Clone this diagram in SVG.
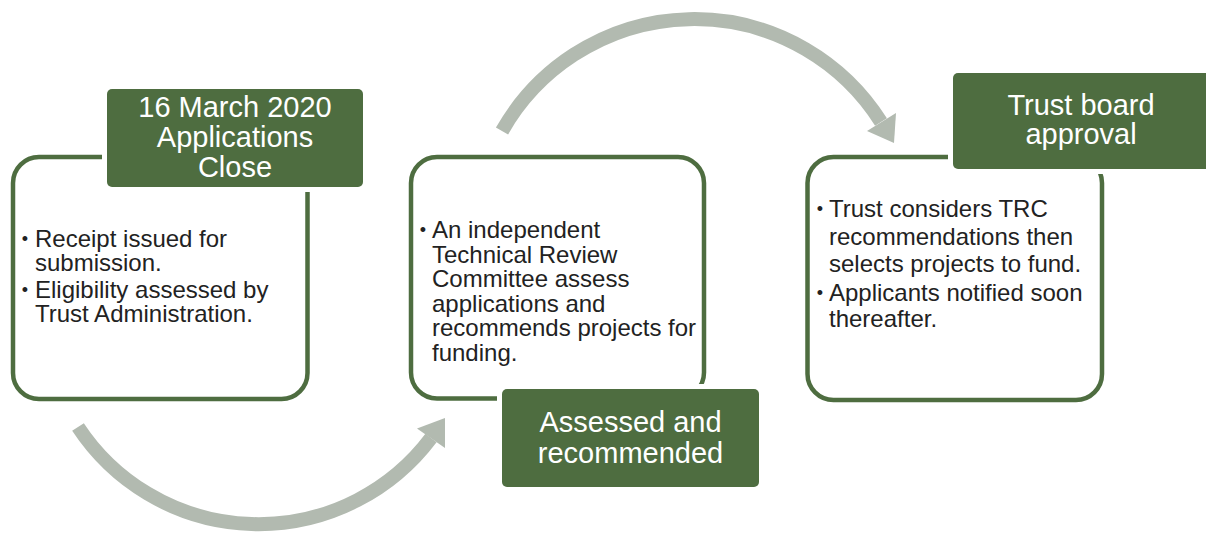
<svg xmlns="http://www.w3.org/2000/svg" width="1206" height="534" viewBox="0 0 1206 534">
<style>
.box{fill:#ffffff;stroke:#4e6d40;stroke-width:4.5}
.gap{fill:#ffffff}
.hdr{fill:#4e6d40}
.ht{font-family:"Liberation Sans",Arial,sans-serif;font-size:29px;fill:#ffffff;text-anchor:middle}
.bt{font-family:"Liberation Sans",Arial,sans-serif;font-size:24px;fill:#222222}
.bul{font-family:"Liberation Sans",Arial,sans-serif;font-size:18px;fill:#222222;text-anchor:middle}
.arc{fill:none;stroke:#b2bab0;stroke-width:14;stroke-linecap:butt}
.head{fill:#b2bab0}
</style>
<rect width="1206" height="534" fill="#ffffff"/>
<g id="connectors">
<path class="arc" d="M 78 427 A 216 216 0 0 0 431 438"/>
<polygon class="head" points="445,418 417,428.5 445,448"/>
<path class="arc" d="M 502 131 A 221 221 0 0 1 881 122"/>
<polygon class="head" points="894,143 867,131 896,113"/>
</g>
<g id="node1">
<rect class="box" x="13" y="157" width="294.5" height="242" rx="26"/>
<rect class="gap" x="102" y="84" width="266" height="108" rx="8"/>
<rect class="hdr" x="107" y="89" width="256" height="98" rx="5"/>
<text class="ht" x="235" y="117">16 March 2020</text>
<text class="ht" x="235" y="147">Applications</text>
<text class="ht" x="235" y="177">Close</text>
<text class="bul" x="25" y="245">•</text>
<text class="bt" x="35" y="246.5">Receipt issued for</text>
<text class="bt" x="35" y="271.1">submission.</text>
<text class="bul" x="25" y="296">•</text>
<text class="bt" x="35" y="297.5">Eligibility assessed by</text>
<text class="bt" x="35" y="322.1">Trust Administration.</text>
</g>
<g id="node2">
<rect class="box" x="411" y="157" width="293" height="241.5" rx="26"/>
<rect class="gap" x="497" y="384" width="267" height="108" rx="8"/>
<rect class="hdr" x="502" y="389" width="257" height="98" rx="5"/>
<text class="ht" x="630.5" y="432">Assessed and</text>
<text class="ht" x="630.5" y="463">recommended</text>
<text class="bul" x="423" y="236">•</text>
<text class="bt" x="432" y="238">An independent</text>
<text class="bt" x="432" y="262.6">Technical Review</text>
<text class="bt" x="432" y="287.2">Committee assess</text>
<text class="bt" x="432" y="311.8">applications and</text>
<text class="bt" x="432" y="336.4">recommends projects for</text>
<text class="bt" x="432" y="361">funding.</text>
</g>
<g id="node3">
<rect class="box" x="807.5" y="157" width="294.5" height="243" rx="26"/>
<rect class="gap" x="948" y="68" width="267" height="106" rx="8"/>
<rect class="hdr" x="953" y="73" width="257" height="96" rx="5"/>
<text class="ht" x="1081" y="115">Trust board</text>
<text class="ht" x="1081" y="144">approval</text>
<text class="bul" x="820" y="215">•</text>
<text class="bt" x="829" y="217">Trust considers TRC</text>
<text class="bt" x="829" y="244.5">recommendations then</text>
<text class="bt" x="829" y="272">selects projects to fund.</text>
<text class="bul" x="820" y="299">•</text>
<text class="bt" x="829" y="301">Applicants notified soon</text>
<text class="bt" x="829" y="327">thereafter.</text>
</g>
</svg>
